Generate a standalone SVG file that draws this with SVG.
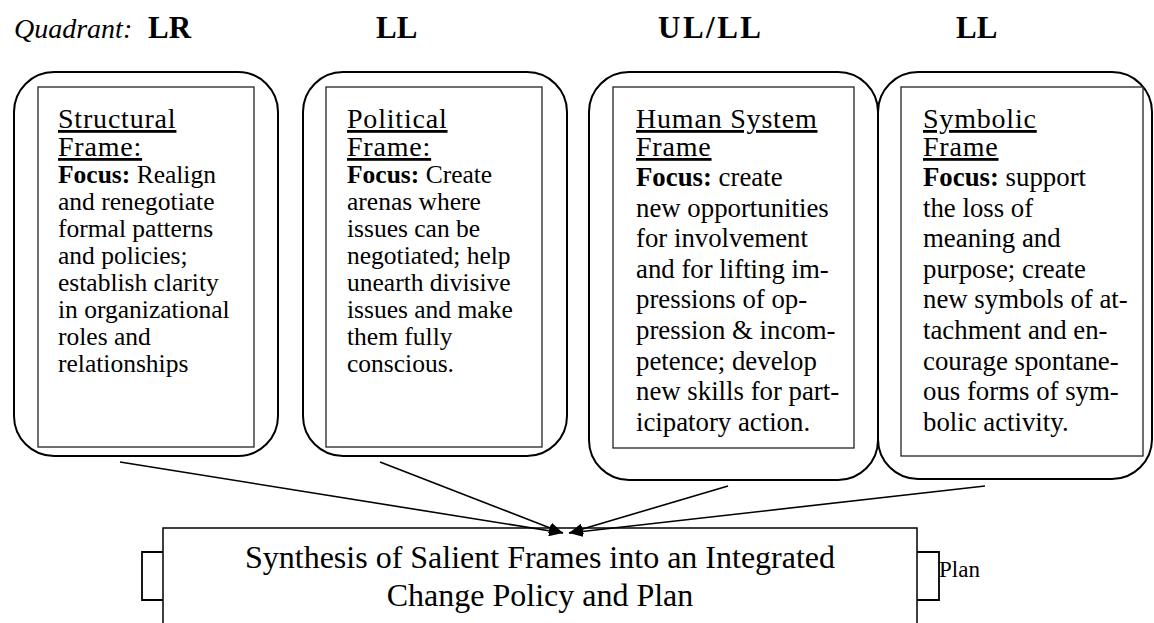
<svg xmlns="http://www.w3.org/2000/svg" width="1154" height="623" viewBox="0 0 1154 623">
  <defs>
    <style>
      .serif { font-family: "Liberation Serif", "Times New Roman", serif; fill: #000; }
      .quad { font-size: 28px; }
      .qbold { font-size: 31px; font-weight: bold; }
      .outer { fill: #fff; stroke: #000; stroke-width: 2; }
      .inner { fill: #fff; stroke: #222; stroke-width: 1.3; }
      .head { font-size: 28px; letter-spacing: 0.8px; text-decoration: underline; }
      .body { font-size: 25.5px; }
      .body-lg { font-size: 26.8px; }
      .lbl { font-weight: bold; }
      .link { fill: none; stroke: #000; stroke-width: 1.6; marker-end: url(#arrow); }
      .plain { fill: #fff; stroke: #000; stroke-width: 1.5; }
      .tab { fill: none; stroke: #000; stroke-width: 1.8; }
    </style>
    <marker id="arrow" viewBox="0 0 14 11" refX="14" refY="5.5" markerWidth="14" markerHeight="11" markerUnits="userSpaceOnUse" orient="auto">
      <path d="M0,0 L14,5.5 L0,11 Z" fill="#000"/>
    </marker>
  </defs>

  <rect width="1154" height="623" fill="#fff"/>

  <!-- quadrant row -->
  <g id="quadrants" class="serif">
    <text x="14" y="38" class="quad" font-style="italic">Quadrant:</text>
    <text x="148" y="38" class="qbold">LR</text>
    <text x="376" y="38" class="qbold">LL</text>
    <text x="658" y="38" class="qbold" letter-spacing="2.5">UL/LL</text>
    <text x="956" y="38" class="qbold">LL</text>
  </g>

  <!-- structural frame -->
  <g id="structural">
    <rect class="outer" x="14" y="72" width="264" height="384" rx="40"/>
    <rect class="inner" x="38" y="87" width="216" height="360"/>
    <g class="serif">
      <text x="58" y="128" class="head">Structural</text>
      <text x="58" y="156" class="head">Frame:</text>
      <g class="body">
        <text x="58" y="183"><tspan class="lbl">Focus:</tspan> Realign</text>
        <text x="58" y="210">and renegotiate</text>
        <text x="58" y="237">formal patterns</text>
        <text x="58" y="264">and policies;</text>
        <text x="58" y="291">establish clarity</text>
        <text x="58" y="318">in organizational</text>
        <text x="58" y="345">roles and</text>
        <text x="58" y="372">relationships</text>
      </g>
    </g>
  </g>

  <!-- political frame -->
  <g id="political">
    <rect class="outer" x="303" y="72" width="264" height="384" rx="40"/>
    <rect class="inner" x="326" y="87" width="216" height="360"/>
    <g class="serif">
      <text x="347" y="128" class="head">Political</text>
      <text x="347" y="156" class="head">Frame:</text>
      <g class="body">
        <text x="347" y="183"><tspan class="lbl">Focus:</tspan> Create</text>
        <text x="347" y="210">arenas where</text>
        <text x="347" y="237">issues can be</text>
        <text x="347" y="264">negotiated; help</text>
        <text x="347" y="291">unearth divisive</text>
        <text x="347" y="318">issues and make</text>
        <text x="347" y="345">them fully</text>
        <text x="347" y="372">conscious.</text>
      </g>
    </g>
  </g>

  <!-- human system frame -->
  <g id="human-system">
    <rect class="outer" x="589" y="72" width="289" height="408" rx="40"/>
    <rect class="inner" x="613" y="87" width="241" height="361"/>
    <g class="serif">
      <text x="636" y="128" class="head">Human System</text>
      <text x="636" y="156" class="head">Frame</text>
      <g class="body-lg">
        <text x="636" y="186"><tspan class="lbl">Focus:</tspan> create</text>
        <text x="636" y="216.6">new opportunities</text>
        <text x="636" y="247.2">for involvement</text>
        <text x="636" y="277.8">and for lifting im-</text>
        <text x="636" y="308.4">pressions of op-</text>
        <text x="636" y="339">pression &amp; incom-</text>
        <text x="636" y="369.6">petence; develop</text>
        <text x="636" y="400.2">new skills for part-</text>
        <text x="636" y="430.8">icipatory action.</text>
      </g>
    </g>
  </g>

  <!-- symbolic frame -->
  <g id="symbolic">
    <rect class="outer" x="878" y="72" width="274" height="407" rx="40"/>
    <rect class="inner" x="901" y="87" width="242" height="369"/>
    <g class="serif">
      <text x="923" y="128" class="head">Symbolic</text>
      <text x="923" y="156" class="head">Frame</text>
      <g class="body-lg">
        <text x="923" y="186"><tspan class="lbl">Focus:</tspan> support</text>
        <text x="923" y="216.6">the loss of</text>
        <text x="923" y="247.2">meaning and</text>
        <text x="923" y="277.8">purpose; create</text>
        <text x="923" y="308.4">new symbols of at-</text>
        <text x="923" y="339">tachment and en-</text>
        <text x="923" y="369.6">courage spontane-</text>
        <text x="923" y="400.2">ous forms of sym-</text>
        <text x="923" y="430.8">bolic activity.</text>
      </g>
    </g>
  </g>

  <!-- synthesis box with side tabs -->
  <g id="synthesis">
    <path class="tab" d="M163,552 H142 V600 H163"/>
    <path class="tab" d="M917,552 H939 V600 H917"/>
    <rect class="plain" x="163" y="528" width="754" height="110"/>
    <g class="serif" text-anchor="middle" font-size="32px">
      <text x="540" y="568">Synthesis of Salient Frames into an Integrated</text>
      <text x="540" y="606">Change Policy and Plan</text>
    </g>
    <text class="serif" x="939" y="577" font-size="23px">Plan</text>
  </g>

  <!-- connectors -->
  <g id="connectors">
    <line class="link" x1="120" y1="462" x2="563" y2="533"/>
    <line class="link" x1="380" y1="462" x2="563" y2="533"/>
    <line class="link" x1="728" y1="486" x2="569" y2="533"/>
    <line class="link" x1="985" y1="486" x2="569" y2="533"/>
  </g>
</svg>
